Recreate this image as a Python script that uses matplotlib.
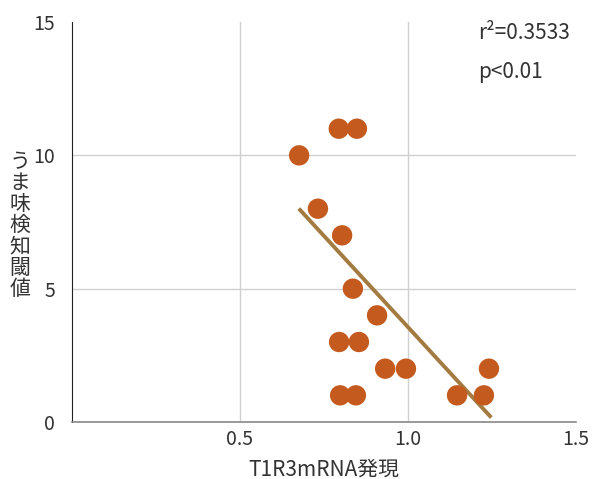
import matplotlib.pyplot as plt
import numpy as np

plt.rcParams["font.family"] = ["Noto Sans CJK JP", "DejaVu Sans"]

# T1R3 mRNA expression vs umami detection threshold
t1r3_expr = [0.676, 0.794, 0.848, 0.732, 0.804, 0.836, 0.908,
             0.795, 0.854, 0.932, 0.994, 1.241,
             0.798, 0.845, 1.146, 1.226]
threshold = [10, 11, 11, 8, 7, 5, 4,
             3, 3, 2, 2, 2,
             1, 1, 1, 1]

# regression line as drawn in the original
fit_x = [0.679, 1.244]
fit_y = [7.95, 0.22]

x_ticks = [0.5, 1.0, 1.5]
y_ticks = [0, 5, 10, 15]

fig = plt.figure(figsize=(5.93, 4.79), dpi=100)
ax = fig.add_axes([0.1214, 0.119, 0.8499, 0.835])

ax.plot(fit_x, fit_y, color="#A37A3F", linewidth=2.8, zorder=2)
ax.scatter(t1r3_expr, threshold, s=215, color="#C55A1E",
           edgecolors="none", zorder=3)

ax.set_xlim(0, 1.5)
ax.set_ylim(0, 15)
ax.set_xticks(x_ticks)
ax.set_xticklabels(["0.5", "1.0", "1.5"])
ax.set_yticks(y_ticks)
ax.tick_params(length=0, labelsize=14, colors="#333333")
ax.tick_params(axis="y", pad=12)
ax.tick_params(axis="x", pad=5)

# grid only at the inner ticks
for gx in [0.5, 1.0]:
    ax.axvline(gx, color="#D0D0D0", linewidth=1, zorder=1)
for gy in [5, 10]:
    ax.axhline(gy, color="#D0D0D0", linewidth=1, zorder=1)

ax.spines["top"].set_visible(False)
ax.spines["right"].set_visible(False)
ax.spines["left"].set_color("#222222")
ax.spines["bottom"].set_color("#888888")
ax.spines["bottom"].set_linewidth(1.2)

ax.set_xlabel("T1R3mRNA発現", fontsize=15, color="#333333", labelpad=6)
fig.text(0.034, 0.53, "\n".join("うま味検知閾値"), fontsize=15,
         color="#333333", ha="center", va="center", linespacing=0.95)

ax.text(0.805, 0.972, "r²=0.3533", transform=ax.transAxes,
        fontsize=15, color="#333333", va="center")
ax.text(0.805, 0.875, "p<0.01", transform=ax.transAxes,
        fontsize=15, color="#333333", va="center")

fig.savefig("out.png", dpi=100)
